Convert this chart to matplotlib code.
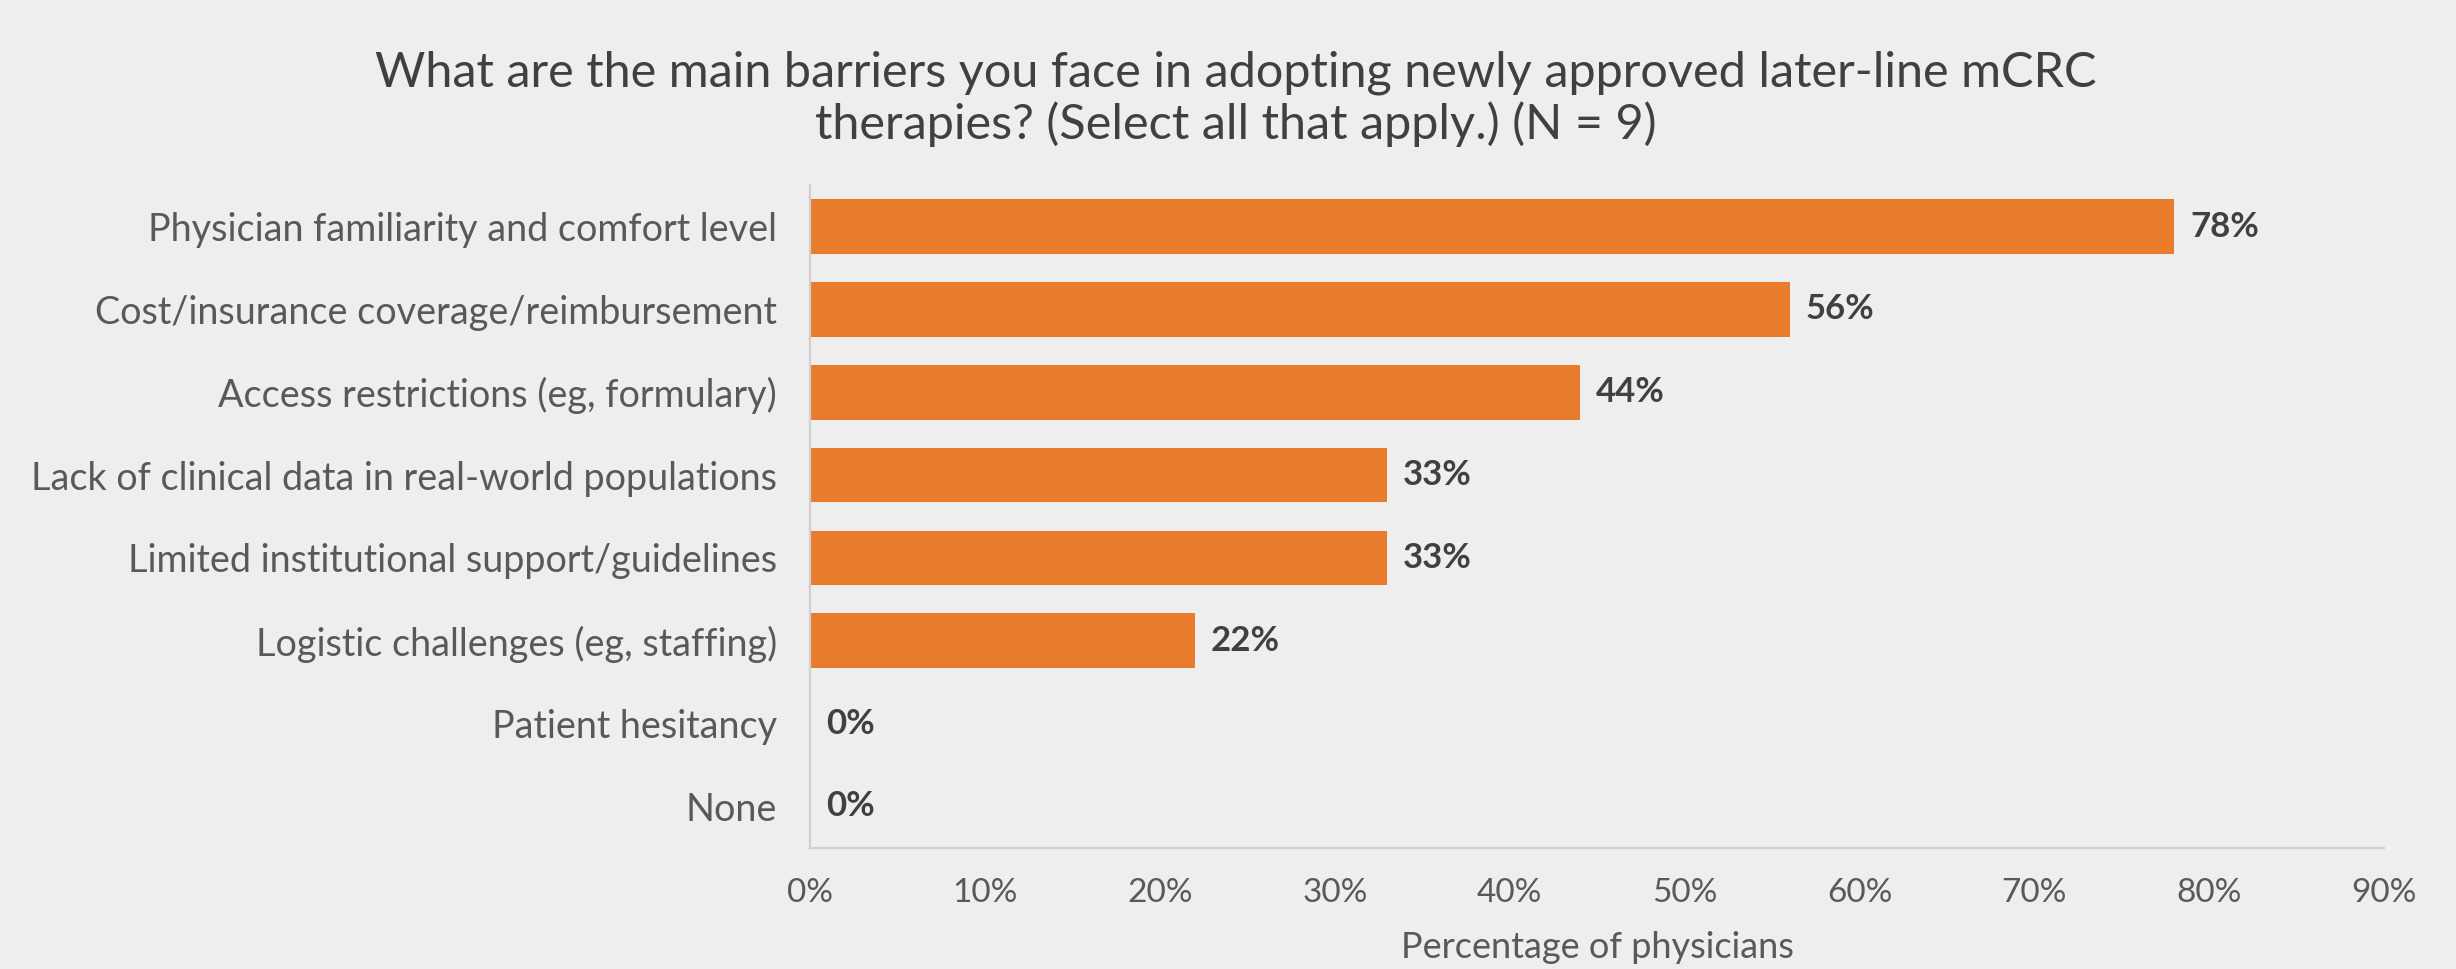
import matplotlib
matplotlib.use('Agg')
import matplotlib.pyplot as plt
from matplotlib.ticker import PercentFormatter

plt.rcParams['font.family'] = ['Lato', 'DejaVu Sans']

barreiras = [
    'Physician familiarity and comfort level',
    'Cost/insurance coverage/reimbursement',
    'Access restrictions (eg, formulary)',
    'Lack of clinical data in real-world populations',
    'Limited institutional support/guidelines',
    'Logistic challenges (eg, staffing)',
    'Patient hesitancy',
    'None',
]
percentuais = [78, 56, 44, 33, 33, 22, 0, 0]
ticks_x = [0, 10, 20, 30, 40, 50, 60, 70, 80, 90]

titulo = ('What are the main barriers you face in adopting newly approved later-line mCRC\n'
          'therapies? (Select all that apply.) (N = 9)')

fundo = '#EEEEEE'
laranja = '#E97B2C'

fig = plt.figure(figsize=(12.28, 4.845), dpi=200, facecolor=fundo)
ax = fig.add_axes([0.33, 0.125, 0.6407, 0.684], facecolor=fundo)

pos = list(range(len(barreiras)))
ax.barh(pos, percentuais, height=0.66, color=laranja)
for y, v in zip(pos, percentuais):
    ax.text(v + 0.9, y, f'{v}%', va='center', ha='left', fontsize=12.5,
            fontweight='bold', color='#404040')

ax.set_yticks(pos)
ax.set_yticklabels(barreiras, fontsize=13.6, color='#595959')
ax.set_ylim(len(barreiras) - 0.5, -0.5)
ax.set_xlim(0, 90)
ax.set_xticks(ticks_x)
ax.xaxis.set_major_formatter(PercentFormatter(decimals=0))
ax.tick_params(axis='x', labelsize=12, labelcolor='#595959', length=0, pad=11)
ax.tick_params(axis='y', length=0, pad=12)

for lado in ['top', 'right']:
    ax.spines[lado].set_visible(False)
ax.spines['left'].set_color('#D0D0D0')
ax.spines['bottom'].set_color('#D0D0D0')
ax.spines['left'].set_linewidth(0.8)
ax.spines['bottom'].set_linewidth(0.8)

ax.set_xlabel('Percentage of physicians', fontsize=13, color='#595959', labelpad=8)

fig.suptitle(titulo, x=0.503, y=0.948, fontsize=17.5, color='#404040',
             linespacing=1.18, va='top')

fig.savefig('out.png', dpi=200, facecolor=fundo)
